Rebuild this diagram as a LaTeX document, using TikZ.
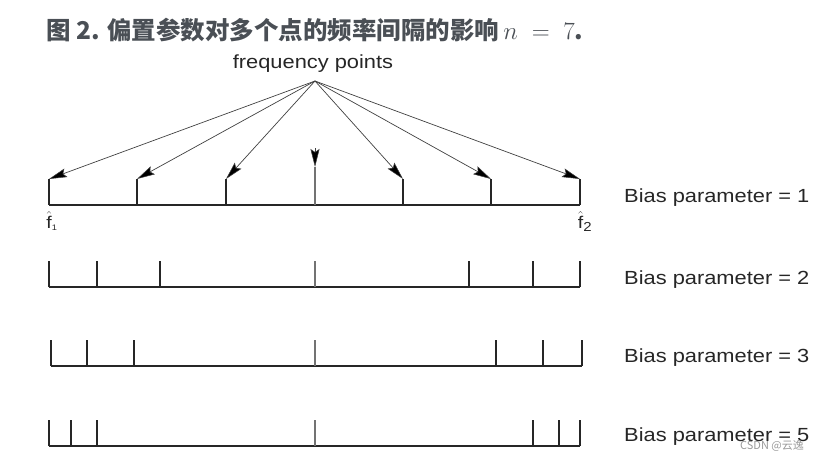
\documentclass[tikz,border=0pt]{standalone}
\usepackage{fontspec}
\usetikzlibrary{arrows.meta}

\newfontfamily\labelfont{Liberation Sans}[FakeStretch=1.15]
\newfontfamily\cjkfont{Noto Sans CJK SC}
\definecolor{titlegray}{HTML}{4A4F55}

\tikzset{
  fqtick/.style={line width=1.3pt, draw=black!85},
  midtick/.style={line width=2pt, draw=black!55},
  axisline/.style={line width=1.2pt, draw=black!85},
  fanline/.style={line width=0.7pt, draw=black!75},
  rowlabel/.style={anchor=west, inner sep=0pt, text=black!85,
    font=\labelfont\fontsize{19}{21}\selectfont},
}

\begin{document}
\begin{tikzpicture}[x=1pt, y=-1pt,
    >={Stealth[length=18pt, width=9pt, inset=3pt, fill=black, line width=0.5pt]}]
  \useasboundingbox (0,0) rectangle (835,459);

  % --- title ---
  \node[anchor=west, inner sep=0pt, text=titlegray,
        font={\cjkfont\bfseries\fontsize{24.5}{27}\selectfont}] (title) at (46,30)
    {图 2. 偏置参数对多个点的频率间隔的影响\,{\fontsize{33}{33}\selectfont$n\;=\;7$}.};

  % --- frequency points and fan of arrows ---
  \node[inner sep=0pt, text=black!85, font=\labelfont\fontsize{19}{21}\selectfont]
    (fp) at (313,64) {frequency points};
  \coordinate (apex) at (315,81);

  % --- row 1: bias parameter = 1 ---
  \foreach \x [count=\i] in {49,137,226,315,403,491,580}
    \coordinate (r1-\i) at (\x,205);
  \draw[axisline] (r1-1) -- (r1-7);
  \foreach \i in {1,2,3,5,6,7}
    \draw[fqtick] (r1-\i) -- ++(0,-26) coordinate (r1top-\i);
  \draw[midtick] (r1-4) -- ++(0,-38) coordinate (r1top-4);
  \foreach \i in {1,2,3,5,6,7}
    \draw[->, fanline] (apex) -- (r1top-\i);
  \coordinate (midstart) at (315,148);
  \draw[->, fanline] (midstart) -- (r1top-4);

  \node[inner sep=0pt, anchor=north, font=\labelfont\fontsize{17}{18}\selectfont, text=black!85]
    (fhat1) at ([xshift=3pt, yshift=-6pt]r1-1)
    {$\hat{\mbox{f}}_{\mbox{\labelfont\fontsize{8}{8}\selectfont 1}}$};
  \node[inner sep=0pt, anchor=north, font=\labelfont\fontsize{17}{18}\selectfont, text=black!85]
    (fhat2) at ([xshift=5pt, yshift=-6pt]r1-7)
    {$\hat{\mbox{f}}_{\mbox{\labelfont\fontsize{13}{13}\selectfont 2}}$};

  % --- row 2: bias parameter = 2 ---
  \foreach \x [count=\i] in {49,97,160,315,469,533,580}
    \coordinate (r2-\i) at (\x,287);
  \draw[axisline] (r2-1) -- (r2-7);
  \foreach \i in {1,2,3,5,6,7}
    \draw[fqtick] (r2-\i) -- ++(0,-26);
  \draw[midtick] (r2-4) -- ++(0,-26);

  % --- row 3: bias parameter = 3 ---
  \foreach \x [count=\i] in {51,87,134,315,496,543,582}
    \coordinate (r3-\i) at (\x,366);
  \draw[axisline] (r3-1) -- (r3-7);
  \foreach \i in {1,2,3,5,6,7}
    \draw[fqtick] (r3-\i) -- ++(0,-26);
  \draw[midtick] (r3-4) -- ++(0,-26);

  % --- row 4: bias parameter = 5 ---
  \foreach \x [count=\i] in {49,71,97,315,533,559,580}
    \coordinate (r4-\i) at (\x,446);
  \draw[axisline] (r4-1) -- (r4-7);
  \foreach \i in {1,2,3,5,6,7}
    \draw[fqtick] (r4-\i) -- ++(0,-26);
  \draw[midtick] (r4-4) -- ++(0,-26);

  % --- row labels ---
  \node[rowlabel] (bias1) at (624,198) {Bias parameter = 1};
  \node[rowlabel] (bias2) at (624,280) {Bias parameter = 2};
  \node[rowlabel] (bias3) at (624,358) {Bias parameter = 3};
  \node[rowlabel] (bias5) at (624,437) {Bias parameter = 5};

  % watermark
  \node[anchor=west, inner sep=0pt, text=black!40,
        font={\cjkfont\fontsize{11}{12}\selectfont}] (mark) at (740,446) {CSDN @云逸};

\end{tikzpicture}
\end{document}
